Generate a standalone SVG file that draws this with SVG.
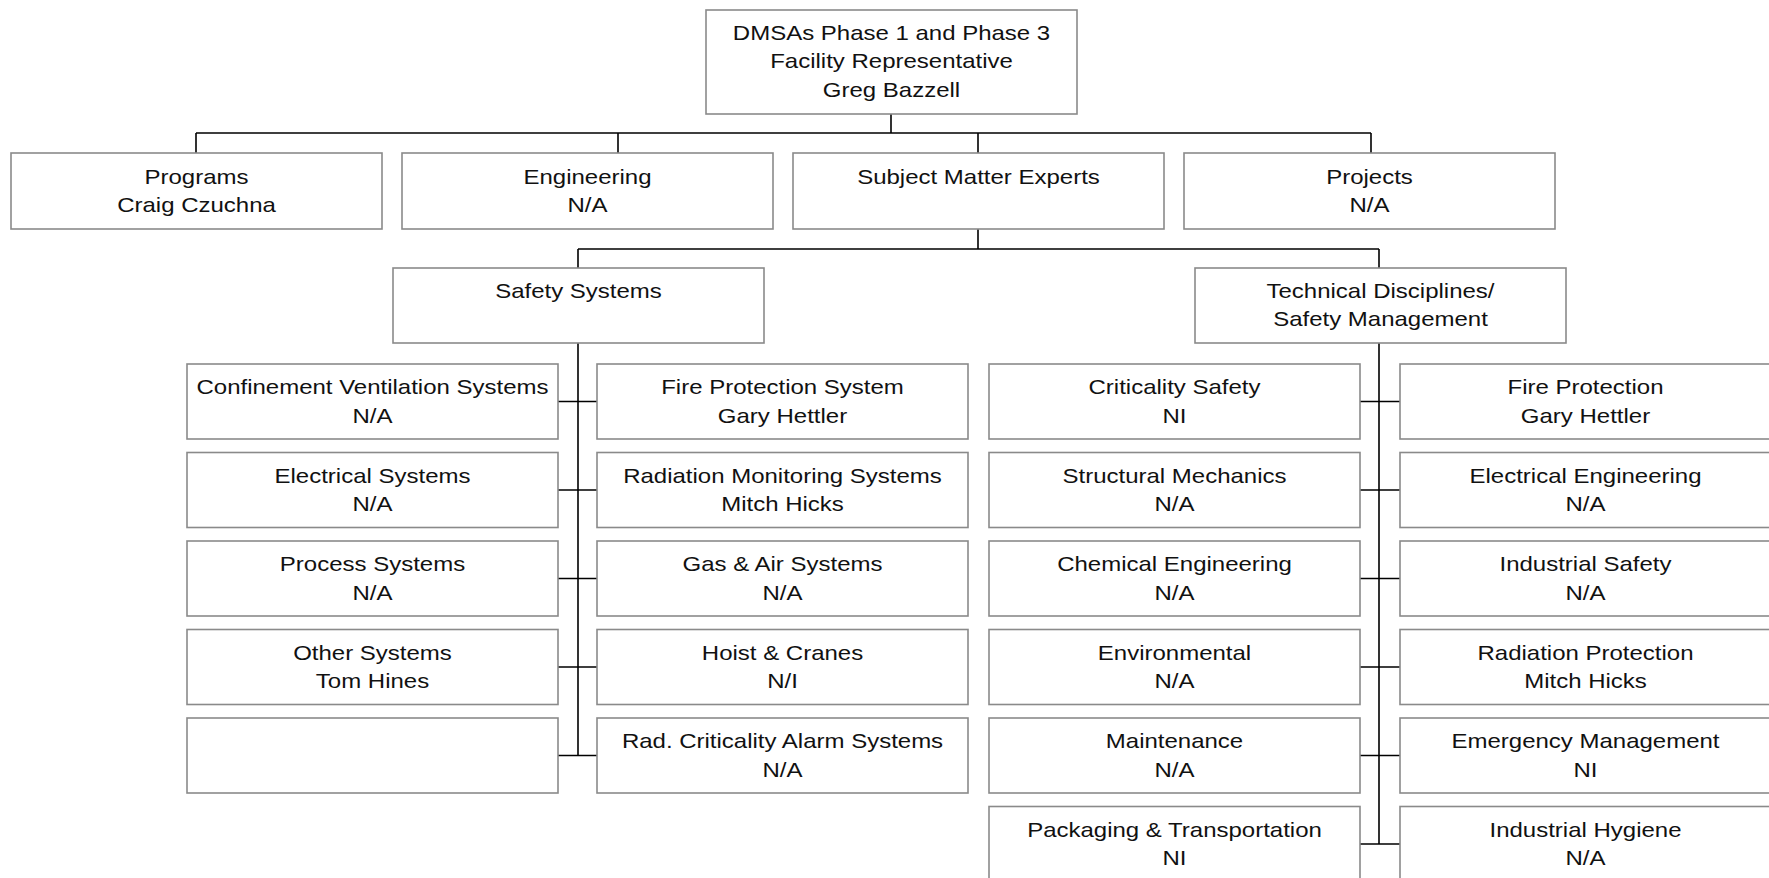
<svg xmlns="http://www.w3.org/2000/svg" width="1769" height="878" viewBox="0 0 1769 878">
<style>
.b{fill:#fff;stroke:#8a8a8a;stroke-width:1.6}
.c{fill:none;stroke:#000;stroke-width:1.6}
.t{font-family:"Liberation Sans",Arial,sans-serif;font-size:20px;fill:#111;text-anchor:middle}
</style>
<rect x="0" y="0" width="1769" height="878" fill="#fff"/>
<g id="connectors">
<path class="c" d="M891 114V133M196 133H1371M196 133V153M618 133V153M978 133V153M1371 133V153"/>
<path class="c" d="M978 229V249M578 249H1379M578 249V268M1379 249V268"/>
<path class="c" d="M578 343V755.5M558 401.5H597M558 490H597M558 578.5H597M558 667H597M558 755.5H597"/>
<path class="c" d="M1379 343V844M1360 401.5H1400M1360 490H1400M1360 578.5H1400M1360 667H1400M1360 755.5H1400M1360 844H1400"/>
</g>
<g id="root"><rect class="b" x="706" y="10" width="371" height="104"/>
<text class="t" transform="translate(891.5 0) scale(1.2 1)"><tspan x="0" y="40">DMSAs Phase 1 and Phase 3</tspan><tspan x="0" y="68.5">Facility Representative</tspan><tspan x="0" y="97">Greg Bazzell</tspan></text></g>
<g id="programs"><rect class="b" x="11" y="153" width="371" height="76"/>
<text class="t" transform="translate(196.5 0) scale(1.2 1)"><tspan x="0" y="184">Programs</tspan><tspan x="0" y="212.5">Craig Czuchna</tspan></text></g>
<g id="engineering"><rect class="b" x="402" y="153" width="371" height="76"/>
<text class="t" transform="translate(587.5 0) scale(1.2 1)"><tspan x="0" y="184">Engineering</tspan><tspan x="0" y="212.5">N/A</tspan></text></g>
<g id="sme"><rect class="b" x="793" y="153" width="371" height="76"/>
<text class="t" transform="translate(978.5 0) scale(1.2 1)"><tspan x="0" y="184">Subject Matter Experts</tspan></text></g>
<g id="projects"><rect class="b" x="1184" y="153" width="371" height="76"/>
<text class="t" transform="translate(1369.5 0) scale(1.2 1)"><tspan x="0" y="184">Projects</tspan><tspan x="0" y="212.5">N/A</tspan></text></g>
<g id="safety-systems"><rect class="b" x="393" y="268" width="371" height="75"/>
<text class="t" transform="translate(578.5 0) scale(1.2 1)"><tspan x="0" y="298">Safety Systems</tspan></text></g>
<g id="tech"><rect class="b" x="1195" y="268" width="371" height="75"/>
<text class="t" transform="translate(1380.5 0) scale(1.2 1)"><tspan x="0" y="298">Technical Disciplines/</tspan><tspan x="0" y="326.5">Safety Management</tspan></text></g>

<g id="confinement"><rect class="b" x="187" y="364" width="371" height="75"/>
<text class="t" transform="translate(372.5 0) scale(1.2 1)"><tspan x="0" y="394.5">Confinement Ventilation Systems</tspan><tspan x="0" y="423">N/A</tspan></text></g>
<g id="electrical-systems"><rect class="b" x="187" y="452.5" width="371" height="75"/>
<text class="t" transform="translate(372.5 0) scale(1.2 1)"><tspan x="0" y="483">Electrical Systems</tspan><tspan x="0" y="511.5">N/A</tspan></text></g>
<g id="process-systems"><rect class="b" x="187" y="541" width="371" height="75"/>
<text class="t" transform="translate(372.5 0) scale(1.2 1)"><tspan x="0" y="571.5">Process Systems</tspan><tspan x="0" y="600">N/A</tspan></text></g>
<g id="other-systems"><rect class="b" x="187" y="629.5" width="371" height="75"/>
<text class="t" transform="translate(372.5 0) scale(1.2 1)"><tspan x="0" y="660">Other Systems</tspan><tspan x="0" y="688.5">Tom Hines</tspan></text></g>
<g id="empty"><rect class="b" x="187" y="718" width="371" height="75"/></g>

<g id="fire-protection-system"><rect class="b" x="597" y="364" width="371" height="75"/>
<text class="t" transform="translate(782.5 0) scale(1.2 1)"><tspan x="0" y="394.5">Fire Protection System</tspan><tspan x="0" y="423">Gary Hettler</tspan></text></g>
<g id="radiation-monitoring"><rect class="b" x="597" y="452.5" width="371" height="75"/>
<text class="t" transform="translate(782.5 0) scale(1.2 1)"><tspan x="0" y="483">Radiation Monitoring Systems</tspan><tspan x="0" y="511.5">Mitch Hicks</tspan></text></g>
<g id="gas-air"><rect class="b" x="597" y="541" width="371" height="75"/>
<text class="t" transform="translate(782.5 0) scale(1.2 1)"><tspan x="0" y="571.5">Gas &amp; Air Systems</tspan><tspan x="0" y="600">N/A</tspan></text></g>
<g id="hoist"><rect class="b" x="597" y="629.5" width="371" height="75"/>
<text class="t" transform="translate(782.5 0) scale(1.2 1)"><tspan x="0" y="660">Hoist &amp; Cranes</tspan><tspan x="0" y="688.5">N/I</tspan></text></g>
<g id="rad-criticality"><rect class="b" x="597" y="718" width="371" height="75"/>
<text class="t" transform="translate(782.5 0) scale(1.2 1)"><tspan x="0" y="748.5">Rad. Criticality Alarm Systems</tspan><tspan x="0" y="777">N/A</tspan></text></g>

<g id="criticality-safety"><rect class="b" x="989" y="364" width="371" height="75"/>
<text class="t" transform="translate(1174.5 0) scale(1.2 1)"><tspan x="0" y="394.5">Criticality Safety</tspan><tspan x="0" y="423">NI</tspan></text></g>
<g id="structural"><rect class="b" x="989" y="452.5" width="371" height="75"/>
<text class="t" transform="translate(1174.5 0) scale(1.2 1)"><tspan x="0" y="483">Structural Mechanics</tspan><tspan x="0" y="511.5">N/A</tspan></text></g>
<g id="chemical"><rect class="b" x="989" y="541" width="371" height="75"/>
<text class="t" transform="translate(1174.5 0) scale(1.2 1)"><tspan x="0" y="571.5">Chemical Engineering</tspan><tspan x="0" y="600">N/A</tspan></text></g>
<g id="environmental"><rect class="b" x="989" y="629.5" width="371" height="75"/>
<text class="t" transform="translate(1174.5 0) scale(1.2 1)"><tspan x="0" y="660">Environmental</tspan><tspan x="0" y="688.5">N/A</tspan></text></g>
<g id="maintenance"><rect class="b" x="989" y="718" width="371" height="75"/>
<text class="t" transform="translate(1174.5 0) scale(1.2 1)"><tspan x="0" y="748.5">Maintenance</tspan><tspan x="0" y="777">N/A</tspan></text></g>
<g id="packaging"><rect class="b" x="989" y="806.5" width="371" height="75"/>
<text class="t" transform="translate(1174.5 0) scale(1.2 1)"><tspan x="0" y="837">Packaging &amp; Transportation</tspan><tspan x="0" y="865.5">NI</tspan></text></g>

<g id="fire-protection"><rect class="b" x="1400" y="364" width="371" height="75"/>
<text class="t" transform="translate(1585.5 0) scale(1.2 1)"><tspan x="0" y="394.5">Fire Protection</tspan><tspan x="0" y="423">Gary Hettler</tspan></text></g>
<g id="electrical-engineering"><rect class="b" x="1400" y="452.5" width="371" height="75"/>
<text class="t" transform="translate(1585.5 0) scale(1.2 1)"><tspan x="0" y="483">Electrical Engineering</tspan><tspan x="0" y="511.5">N/A</tspan></text></g>
<g id="industrial-safety"><rect class="b" x="1400" y="541" width="371" height="75"/>
<text class="t" transform="translate(1585.5 0) scale(1.2 1)"><tspan x="0" y="571.5">Industrial Safety</tspan><tspan x="0" y="600">N/A</tspan></text></g>
<g id="radiation-protection"><rect class="b" x="1400" y="629.5" width="371" height="75"/>
<text class="t" transform="translate(1585.5 0) scale(1.2 1)"><tspan x="0" y="660">Radiation Protection</tspan><tspan x="0" y="688.5">Mitch Hicks</tspan></text></g>
<g id="emergency"><rect class="b" x="1400" y="718" width="371" height="75"/>
<text class="t" transform="translate(1585.5 0) scale(1.2 1)"><tspan x="0" y="748.5">Emergency Management</tspan><tspan x="0" y="777">NI</tspan></text></g>
<g id="industrial-hygiene"><rect class="b" x="1400" y="806.5" width="371" height="75"/>
<text class="t" transform="translate(1585.5 0) scale(1.2 1)"><tspan x="0" y="837">Industrial Hygiene</tspan><tspan x="0" y="865.5">N/A</tspan></text></g>
</svg>
